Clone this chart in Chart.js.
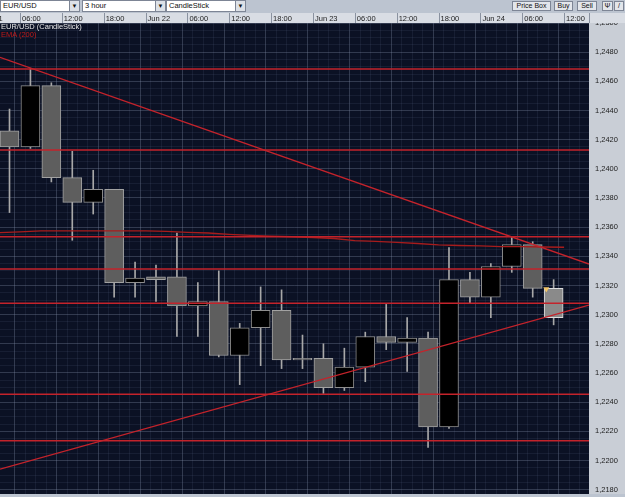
<!DOCTYPE html>
<html>
<head>
<meta charset="utf-8">
<title>EUR/USD 3 hour</title>
<script src="https://cdn.jsdelivr.net/npm/chart.js@4.4.1/dist/chart.umd.min.js"></script>
<style>
   body { margin: 0; width: 625px; height: 497px; background: #bcc4d0; position: relative; overflow: hidden; font-family: "Liberation Sans", Arial, sans-serif; }
   .toolbar { position: absolute; left: 0; top: 0; width: 625px; height: 13px; background: #bcc4d0; }
   .select, .arrow, .btn { position: absolute; box-sizing: border-box; border: 1px solid #7d8595; color: #111; white-space: nowrap; }
   .select { top: 0; height: 12px; background: #fff; font-size: 7.5px; line-height: 10px; padding-left: 2px; }
   .arrow { top: 0; height: 12px; background: #dde1e7; font-size: 6px; line-height: 10px; text-align: center; }
   .btn { top: 1px; height: 10px; background: #e3e6eb; font-size: 7px; line-height: 8px; text-align: center; }
   .legend { position: absolute; left: 1px; font-size: 7.5px; line-height: 9px; z-index: 2; }
   #chart { position: absolute; left: 0; top: 13px; }
</style>
</head>
<body>
<div class="toolbar">
   <div class="select" style="left:0;width:70px">EUR/USD</div>
   <div class="arrow" style="left:69px;width:11px">&#9660;</div>
   <div class="select" style="left:82px;width:74px">3 hour</div>
   <div class="arrow" style="left:155px;width:11px">&#9660;</div>
   <div class="select" style="left:166px;width:70px">CandleStick</div>
   <div class="arrow" style="left:235px;width:11px">&#9660;</div>
   <div class="btn" style="left:512px;width:39px">Price Box</div>
   <div class="btn" style="left:554px;width:19px">Buy</div>
   <div class="btn" style="left:577px;width:20px">Sell</div>
   <div class="btn" style="left:602px;width:11px">&#936;</div>
   <div class="btn" style="left:614px;width:10px">/</div>
</div>
<div class="legend" style="top:22px;color:#e6e6e6">EUR/USD (CandleStick)</div>
<div class="legend" style="top:30px;color:#c01a1a">EMA (200)</div>
<canvas id="chart" width="625" height="484"></canvas>
<script>
"use strict";

// one time label every 2 candles (6 hours), the first one sits off the left edge
const timeLabels = [
   "Jun 21", "06:00", "12:00", "18:00",
   "Jun 22", "06:00", "12:00", "18:00",
   "Jun 23", "06:00", "12:00", "18:00",
   "Jun 24", "06:00", "12:00",
];

// 3 hour candles
const open = [
   1.2426, 1.2415, 1.2457, 1.2394, 1.2377, 1.2386, 1.2322, 1.2326, 1.2326,
   1.2306, 1.2309, 1.2272, 1.2291, 1.2303, 1.2270, 1.2270, 1.2250, 1.2264,
   1.2285, 1.2281, 1.2284, 1.2223, 1.2324, 1.2312, 1.2333, 1.2348, 1.2318,
];
const high = [
   1.2441, 1.2469, 1.2459, 1.2412, 1.2399, 1.2386, 1.2336, 1.2334, 1.2356,
   1.2322, 1.2330, 1.2294, 1.2319, 1.2317, 1.2286, 1.2280, 1.2277, 1.2288,
   1.2307, 1.2298, 1.2288, 1.2346, 1.2329, 1.2335, 1.2353, 1.2350, 1.2324,
];
const low = [
   1.2370, 1.2414, 1.2391, 1.2351, 1.2369, 1.2312, 1.2312, 1.2309, 1.2285,
   1.2285, 1.2271, 1.2252, 1.2265, 1.2263, 1.2263, 1.2246, 1.2248, 1.2254,
   1.2276, 1.2261, 1.2209, 1.2222, 1.2308, 1.2298, 1.2329, 1.2312, 1.2293,
];
const close = [
   1.2415, 1.2457, 1.2394, 1.2377, 1.2386, 1.2322, 1.2325, 1.2324, 1.2306,
   1.2309, 1.2272, 1.2291, 1.2303, 1.2269, 1.2269, 1.2250, 1.2264, 1.2285,
   1.2281, 1.2284, 1.2223, 1.2324, 1.2312, 1.2333, 1.2348, 1.2318, 1.2298,
];

// EMA(200), one value per candle close, starting half a candle before candle 0
const ema200 = [
   1.23562, 1.23567, 1.23574, 1.23574, 1.23574, 1.23574, 1.23574, 1.23574,
   1.23571, 1.23564, 1.23560, 1.23550, 1.23543, 1.23539, 1.23534, 1.23529,
   1.23522, 1.23508, 1.23502, 1.23495, 1.23488, 1.23478, 1.23474, 1.23471,
   1.23467, 1.23466, 1.23464, 1.23462,
];

// support / resistance levels
const levels = [1.24685, 1.24129, 1.23534, 1.23313, 1.23078, 1.22454, 1.22135];

// trend lines, value at left and right edge of the plot
const trendDown = [1.24765, 1.23347];
const trendUp = [1.21941, 1.23066];

const xMin = -0.454;
const xMax = 27.69;
const priceMin = 1.2177;
const priceMax = 1.25;

const lineRed = "#c4232b";
const gridMajor = "rgba(125, 138, 165, 0.34)";
const gridMinor = "rgba(95, 110, 140, 0.15)";

const lastIdx = close.length - 1;

const bodyFill = function (i) {
   if (i === lastIdx) return "#8a8a8a";
   return close[i] >= open[i] ? "#000000" : "#5e5e5e";
};
const bodyBorder = function (i) {
   if (i === lastIdx) return "#dcdcdc";
   return close[i] >= open[i] ? "#8e8e8e" : "#a2a2a2";
};

const candleBodies = open.map((o, i) => ({ x: i, y: [o, close[i]] }));
const candleWicks = low.map((l, i) => ({ x: i, y: [l, high[i]] }));
const emaPoints = ema200.map((v, i) => ({ x: i - 0.5, y: v }));

const levelSets = levels.map((lvl) => ({
   type: "line",
   data: [{ x: xMin, y: lvl }, { x: xMax, y: lvl }],
   borderColor: lineRed,
   borderWidth: 1.6,
   pointRadius: 0,
   order: 0,
}));
const trendSet = function (ends) {
   return {
      type: "line",
      data: [{ x: xMin, y: ends[0] }, { x: xMax, y: ends[1] }],
      borderColor: lineRed,
      borderWidth: 1.3,
      pointRadius: 0,
      order: 0,
   };
};

const fmtPrice = (v) => v.toFixed(4).replace(".", ",");

const buildTimeTicks = function (scale) {
   const ticks = [];
   timeLabels.forEach((lbl, i) => {
      const v = -1.5 + 2 * i;
      ticks.push({ value: v, major: true });
      [0.5, 1, 1.5].forEach((d) => {
         const m = v + d;
         if (m > xMin && m < xMax) ticks.push({ value: m, major: false });
      });
   });
   // minor lines after the last label
   const lastV = -1.5 + 2 * (timeLabels.length - 1);
   [2, 2.5].forEach((d) => {
      if (lastV + d < xMax) ticks.push({ value: lastV + d, major: false });
   });
   ticks.sort((a, b) => a.value - b.value);
   scale.ticks = ticks;
};

const buildPriceTicks = function (scale) {
   const ticks = [];
   for (let k = 0; k <= 64; k++) {
      const pips = 12180 + 5 * k;
      ticks.push({ value: pips / 10000, major: (pips - 12180) % 20 === 0 });
   }
   scale.ticks = ticks;
};

// no extra room for labels hanging over the plot edges
const noPadding = function (s) {
   s.paddingLeft = 0;
   s.paddingRight = 0;
   s.paddingTop = 0;
   s.paddingBottom = 0;
};

const framePlugin = {
   id: "frame",
   beforeDraw(chart) {
      const { ctx, chartArea: a, width, height } = chart;
      ctx.save();
      ctx.fillStyle = "#0b1124";
      ctx.fillRect(a.left, a.top, a.right - a.left, a.bottom - a.top);
      ctx.fillStyle = "#d9dde4";
      ctx.fillRect(0, 0, a.right, a.top);
      ctx.fillStyle = "#c9ced6";
      ctx.fillRect(a.right, a.top, width - a.right, a.bottom - a.top);
      ctx.fillStyle = "#bcc4d0";
      ctx.fillRect(0, a.bottom, width, height - a.bottom);
      ctx.restore();
   },
   afterDraw(chart) {
      const { ctx, chartArea: a, width } = chart;
      const xs = chart.scales.x;
      ctx.save();
      ctx.strokeStyle = "#8a92a0";
      ctx.lineWidth = 1;
      xs.ticks.forEach((t) => {
         if (!t.major) return;
         const px = Math.round(xs.getPixelForValue(t.value)) + 0.5;
         if (px < a.left || px > a.right) return;
         ctx.beginPath();
         ctx.moveTo(px, 0);
         ctx.lineTo(px, a.top);
         ctx.stroke();
      });
      // corner box above the price axis
      ctx.fillStyle = "#d9dde4";
      ctx.fillRect(a.right, 0, width - a.right, a.top);
      ctx.beginPath();
      ctx.moveTo(a.right + 0.5, 0);
      ctx.lineTo(a.right + 0.5, a.top);
      ctx.stroke();
      ctx.restore();
   },
};

const ctx = document.getElementById("chart").getContext("2d");
const myChart = new Chart(ctx, {
   type: "bar",
   data: {
      datasets: [
         ...levelSets,
         trendSet(trendDown),
         trendSet(trendUp),
         {
            type: "line",
            label: "EMA (200)",
            data: emaPoints,
            borderColor: "#a81c1c",
            borderWidth: 1.3,
            pointRadius: 0,
            order: 0,
         },
         {
            type: "line",
            label: "last",
            data: [{ x: lastIdx - 0.35, y: open[lastIdx] - 0.00004 }],
            showLine: false,
            pointStyle: "triangle",
            rotation: 180,
            pointRadius: 3.5,
            pointBackgroundColor: "#f2c466",
            pointBorderWidth: 0,
            order: -1,
         },
         {
            label: "EUR/USD (CandleStick)",
            data: candleBodies,
            grouped: false,
            barThickness: 19,
            borderWidth: 1,
            borderSkipped: false,
            backgroundColor: (c) => bodyFill(c.dataIndex),
            borderColor: (c) => bodyBorder(c.dataIndex),
            order: 1,
         },
         {
            label: "wicks",
            data: candleWicks,
            grouped: false,
            barThickness: 1,
            borderWidth: 0,
            backgroundColor: "#a8a8a8",
            order: 2,
         },
      ],
   },
   options: {
      responsive: false,
      animation: false,
      devicePixelRatio: 1,
      layout: { autoPadding: false, padding: { left: 0, right: 0, top: 0, bottom: 3 } },
      plugins: { legend: { display: false }, tooltip: { enabled: false } },
      scales: {
         x: {
            type: "linear",
            position: "top",
            min: xMin,
            max: xMax,
            offset: false,
            border: { display: false },
            grid: {
               drawTicks: false,
               color: (c) => (c.tick && c.tick.major ? gridMajor : gridMinor),
            },
            ticks: {
               autoSkip: false,
               maxRotation: 0,
               align: "start",
               labelOffset: 2,
               padding: 0,
               color: "#1c1c1c",
               font: { family: "Liberation Sans", size: 7.5 },
               callback: (value, index, ticks) =>
                  ticks[index].major ? timeLabels[(value + 1.5) / 2] : "",
            },
            afterBuildTicks: buildTimeTicks,
            afterFit: (s) => {
               s.height = 10;
               noPadding(s);
            },
         },
         y: {
            type: "linear",
            position: "right",
            min: priceMin,
            max: priceMax,
            border: { display: false },
            grid: {
               drawTicks: false,
               color: (c) => (c.tick && c.tick.major ? gridMajor : gridMinor),
            },
            ticks: {
               autoSkip: false,
               padding: 6,
               color: "#1c1c1c",
               font: { family: "Liberation Sans", size: 7.5 },
               callback: (value, index, ticks) =>
                  ticks[index].major ? fmtPrice(value) : "",
            },
            afterBuildTicks: buildPriceTicks,
            afterFit: (s) => {
               s.width = 36;
               noPadding(s);
            },
         },
      },
   },
   plugins: [framePlugin],
});
</script>
</body>
</html>
